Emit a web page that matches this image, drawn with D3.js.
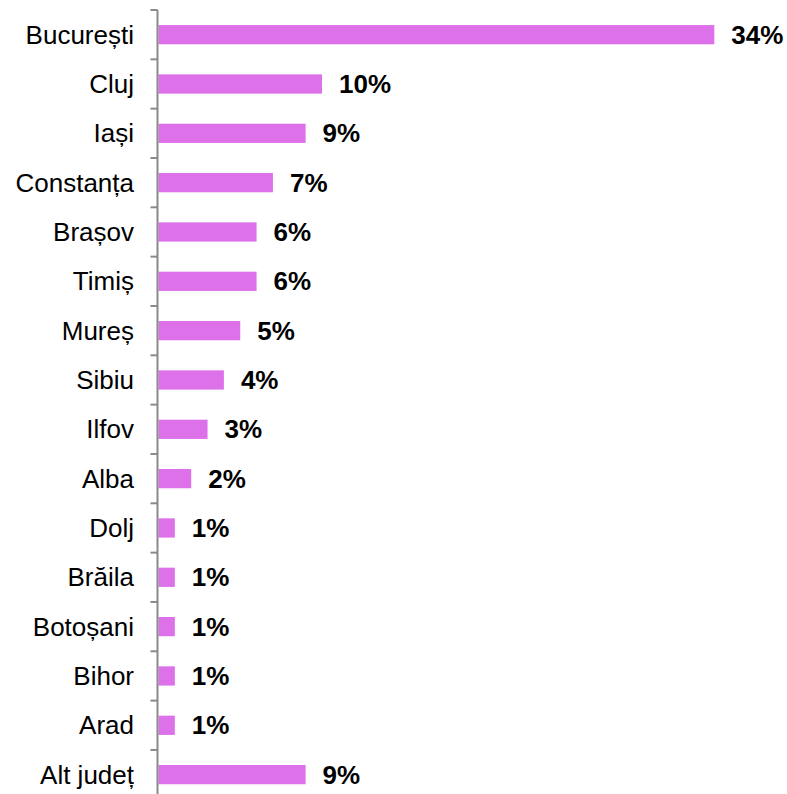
<!DOCTYPE html>
<html>
<head>
<meta charset="utf-8">
<script src="https://cdn.jsdelivr.net/npm/d3@7"></script>
<style>
  html, body { margin: 0; padding: 0; background: #fff; }
  svg { display: block; }
</style>
</head>
<body>
<svg id="chart" width="787" height="794"></svg>
<script>
// Distribuția pe județe (%)
const categories = ["București", "Cluj", "Iași", "Constanța", "Brașov", "Timiș", "Mureș", "Sibiu",
  "Ilfov", "Alba", "Dolj", "Brăila", "Botoșani", "Bihor", "Arad", "Alt județ"];
const values = [34, 10, 9, 7, 6, 6, 5, 4, 3, 2, 1, 1, 1, 1, 1, 9];
const valueLabels = values.map(v => v + "%");

const svg = d3.select("#chart");
const axisX = 157.5;

const y = d3.scaleBand()
  .domain(categories)
  .range([10, 10 + 49.33 * categories.length])
  .paddingInner(0.61)
  .paddingOuter(0.305);

const x = d3.scaleLinear()
  .domain([0, 34])
  .range([axisX + 1, 714.3]);

// bars
svg.append("g")
  .selectAll("rect")
  .data(categories)
  .join("rect")
  .attr("x", x(0))
  .attr("y", d => y(d))
  .attr("width", (d, i) => x(values[i]) - x(0))
  .attr("height", y.bandwidth())
  .attr("fill", "#DC71EA");

// category axis with ticks between bands
const axisG = svg.append("g");
axisG.append("line")
  .attr("x1", axisX).attr("x2", axisX)
  .attr("y1", 10).attr("y2", 794)
  .attr("stroke", "#8a8a8a").attr("stroke-width", 2);

const step = y.step();
const tickYs = d3.range(categories.length + 1).map(i => 10 + i * step);
axisG.selectAll("line.tick")
  .data(tickYs)
  .join("line")
  .attr("class", "tick")
  .attr("x1", axisX - 7).attr("x2", axisX)
  .attr("y1", d => d).attr("y2", d => d)
  .attr("stroke", "#8a8a8a").attr("stroke-width", 2);

// category labels
svg.append("g")
  .selectAll("text")
  .data(categories)
  .join("text")
  .attr("x", 134)
  .attr("y", d => y(d) + y.bandwidth() / 2)
  .attr("dy", "0.35em")
  .attr("text-anchor", "end")
  .attr("font-family", "Liberation Sans, Arial, sans-serif")
  .attr("font-size", 26)
  .attr("fill", "#000")
  .text(d => d);

// value labels
svg.append("g")
  .selectAll("text")
  .data(categories)
  .join("text")
  .attr("x", (d, i) => x(values[i]) + 17)
  .attr("y", d => y(d) + y.bandwidth() / 2)
  .attr("dy", "0.35em")
  .attr("font-family", "Liberation Sans, Arial, sans-serif")
  .attr("font-weight", "bold")
  .attr("font-size", 26)
  .attr("fill", "#000")
  .text((d, i) => valueLabels[i]);
</script>
</body>
</html>
